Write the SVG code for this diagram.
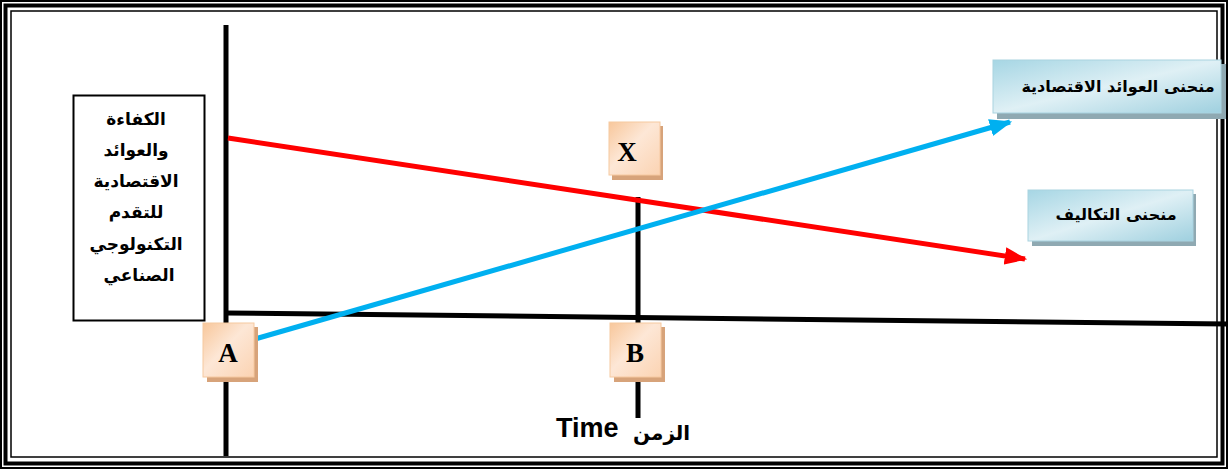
<svg xmlns="http://www.w3.org/2000/svg" width="1228" height="469" viewBox="0 0 1228 469">
<defs>
<style>
.frame{fill:none;stroke:#000}
.axis{stroke:#000;stroke-width:5;fill:none}
.ar{font-family:"DejaVu Sans",sans-serif;font-weight:bold;fill:#000}
.lt{font-family:"Liberation Serif",serif;font-weight:bold;font-size:27px;fill:#000;text-anchor:middle}
.peach{fill:url(#pg);stroke:#f6c9a0;stroke-width:1}
.pshadow{fill:#d7a37a}
.blue{fill:url(#bg);stroke:#a9d3e0;stroke-width:1}
.bshadow{fill:#8fa9b2}
</style>
<linearGradient id="pg" x1="0" y1="0" x2="1" y2="1">
<stop offset="0" stop-color="#f8c79b"/>
<stop offset="0.45" stop-color="#fde7d6"/>
<stop offset="1" stop-color="#fbd3b2"/>
</linearGradient>
<linearGradient id="bg" x1="0" y1="0" x2="1" y2="1">
<stop offset="0" stop-color="#a6d6e4"/>
<stop offset="0.5" stop-color="#dff0f5"/>
<stop offset="1" stop-color="#9fd0df"/>
</linearGradient>
<marker id="mr" viewBox="0 0 10 10" refX="9" refY="5" markerWidth="4.5" markerHeight="3.5" orient="auto" markerUnits="strokeWidth" preserveAspectRatio="none">
<path d="M0,0 L10,5 L0,10 z" fill="#ff0000"/>
</marker>
<marker id="mb" viewBox="0 0 10 10" refX="9" refY="5" markerWidth="4.5" markerHeight="3.5" orient="auto" markerUnits="strokeWidth" preserveAspectRatio="none">
<path d="M0,0 L10,5 L0,10 z" fill="#00b0f0"/>
</marker>
</defs>
<rect width="1228" height="469" fill="#fff"/>
<g id="frame">
<rect class="frame" x="1" y="1" width="1226" height="467" stroke-width="2"/>
<rect class="frame" x="5.5" y="5.5" width="1217" height="458" stroke-width="4"/>
<rect class="frame" x="11" y="11" width="1206" height="446" stroke-width="1.5"/>
</g>
<g id="connectors">
<line class="axis" x1="226" y1="25" x2="226" y2="456"/>
<line class="axis" x1="226" y1="313" x2="1228" y2="324"/>
<line class="axis" x1="638" y1="197" x2="638" y2="418" stroke-width="4.5"/>
<line x1="228" y1="138" x2="1025" y2="259" stroke="#ff0000" stroke-width="5" marker-end="url(#mr)"/>
<line x1="255" y1="339" x2="1010" y2="122" stroke="#00b0f0" stroke-width="5" marker-end="url(#mb)"/>
</g>
<g id="ylabel">
<rect x="73.5" y="95.5" width="131" height="225" fill="#fff" stroke="#000" stroke-width="2"/>
<text class="ar" font-size="17" text-anchor="middle">
<tspan x="139" y="125">الكفاءة</tspan>
<tspan x="139" y="156">والعوائد</tspan>
<tspan x="139" y="187">الاقتصادية</tspan>
<tspan x="139" y="218">للتقدم</tspan>
<tspan x="139" y="250">التكنولوجي</tspan>
<tspan x="139" y="281">الصناعي</tspan>
</text>
</g>
<g id="nodeA">
<rect class="pshadow" x="207" y="327" width="51" height="55"/>
<rect class="peach" x="203" y="323" width="51" height="54"/>
<text class="lt" x="228" y="362">A</text>
</g>
<g id="nodeB">
<rect class="pshadow" x="614" y="327" width="51" height="55"/>
<rect class="peach" x="610" y="323" width="51" height="54"/>
<text class="lt" x="635" y="362">B</text>
</g>
<g id="nodeX">
<rect class="pshadow" x="612" y="126" width="51" height="54"/>
<rect class="peach" x="609" y="122" width="51" height="53"/>
<text class="lt" x="627" y="161">X</text>
</g>
<g id="returns">
<rect class="bshadow" x="997" y="64" width="229" height="55"/>
<rect class="blue" x="993" y="60" width="228" height="53"/>
<text class="ar" font-size="16" x="1118" y="92" text-anchor="middle">منحنى العوائد الاقتصادية</text>
</g>
<g id="costs">
<rect class="bshadow" x="1032" y="194" width="164" height="52"/>
<rect class="blue" x="1028" y="190" width="165" height="51"/>
<text class="ar" font-size="16" x="1116" y="220" text-anchor="middle">منحنى التكاليف</text>
</g>
<g id="xlabel">
<text font-family="Liberation Sans, sans-serif" font-weight="bold" font-size="27" x="556" y="437">Time</text>
<text class="ar" font-size="20" x="633" y="440">الزمن</text>
</g>
</svg>
